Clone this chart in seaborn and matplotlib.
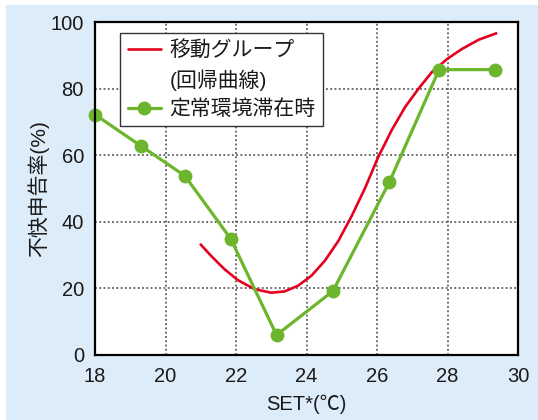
import matplotlib
matplotlib.use("Agg")
import matplotlib.pyplot as plt
from matplotlib.lines import Line2D
from matplotlib.patches import Rectangle
import seaborn as sns
import pandas as pd

# ---- data ----
green_x = [18.0, 19.3, 20.55, 21.85, 23.15, 24.75, 26.35, 27.76, 29.36]
green_y = [72.2, 62.8, 53.8, 34.9, 6.0, 19.2, 51.9, 85.7, 85.7]

red_x = [20.98, 21.29, 21.67, 22.05, 22.52, 23.0, 23.38, 23.76, 24.14, 24.52, 24.90,
         25.28, 25.66, 26.02, 26.42, 26.80, 27.18, 27.56, 28.0, 28.41, 28.89, 29.41]
red_y = [33.4, 29.8, 25.8, 22.5, 19.8, 18.7, 19.1, 20.8, 23.8, 28.3, 34.2,
         41.7, 50.1, 59.1, 67.6, 74.5, 80.0, 85.0, 89.0, 91.9, 94.7, 96.7]

x_ticks = [18, 20, 22, 24, 26, 28, 30]
y_ticks = [0, 20, 40, 60, 80, 100]

label_red_1 = "移動グループ"
label_red_2 = "(回帰曲線)"
label_green = "定常環境滞在時"
xlabel = "SET*(℃)"
ylabel = "不快申告率(%)"

sns.set_theme(style="white")
plt.rcParams['font.family'] = ['Liberation Sans', 'Noto Sans CJK JP', 'DejaVu Sans']

RED = "#e60020"
GREEN = "#6cb52d"
BG = "#ddecf9"

fig = plt.figure(figsize=(5.38, 4.2), dpi=100, facecolor="white")
fig.patches.append(Rectangle((6 / 538, 0), 1, (420 - 5) / 420, transform=fig.transFigure,
                             facecolor=BG, edgecolor="none", zorder=-10))
ax = fig.add_axes([95 / 538, (420 - 355) / 420, (518 - 95) / 538, (355 - 22) / 420])
ax.set_facecolor("white")

df_red = pd.DataFrame({"x": red_x, "y": red_y})
df_green = pd.DataFrame({"x": green_x, "y": green_y})

sns.lineplot(data=df_red, x="x", y="y", sort=False, color=RED, lw=1.9, ax=ax, zorder=3,
             solid_joinstyle="round", solid_capstyle="butt")
sns.lineplot(data=df_green, x="x", y="y", sort=False, color=GREEN, lw=2.3, marker="o",
             markersize=10, markeredgewidth=0, ax=ax, zorder=4, clip_on=False)

ax.set_xlim(18, 30)
ax.set_ylim(0, 100)
ax.set_xticks(x_ticks)
ax.set_yticks(y_ticks)
ax.tick_params(axis="both", length=0, labelsize=14.5, colors="#1a1a1a")
ax.tick_params(axis="x", pad=9)
ax.tick_params(axis="y", pad=8)

ax.grid(True, color="#444444", linestyle=(0, (1.2, 1.6)), linewidth=1.1)
ax.set_axisbelow(True)
for s in ax.spines.values():
    s.set_color("black")
    s.set_linewidth(1.6)
    s.set_zorder(5)

ax.set_xlabel(xlabel, fontsize=14.5, color="#1a1a1a", labelpad=6)
ax.set_ylabel(ylabel, fontsize=15, color="#1a1a1a", labelpad=1)

handles = [
    Line2D([], [], color=RED, lw=1.9),
    Line2D([], [], color="none"),
    Line2D([], [], color=GREEN, lw=2.3, marker="o", markersize=10, markeredgewidth=0),
]
leg = ax.legend(handles, [label_red_1, label_red_2, label_green],
                loc="upper left", bbox_to_anchor=(0.060, 0.967), borderaxespad=0,
                fontsize=15, frameon=True, fancybox=False, framealpha=1,
                edgecolor="#333333", handlelength=1.6, handletextpad=0.4,
                labelspacing=0.42, borderpad=0.35)
leg.get_frame().set_linewidth(1.0)
for t in leg.get_texts():
    t.set_color("#1a1a1a")

fig.savefig("out.png", dpi=100, facecolor=fig.get_facecolor())
